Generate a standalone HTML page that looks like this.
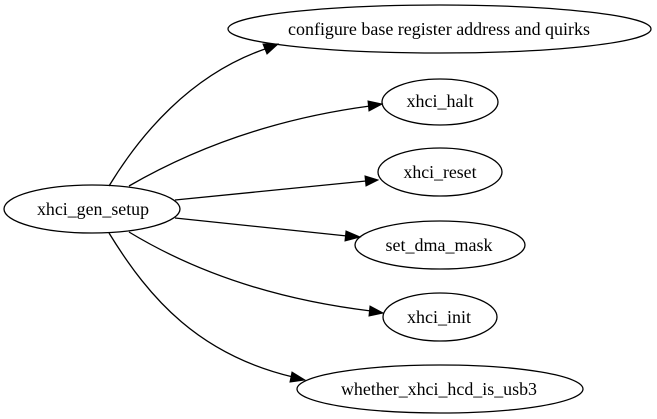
<!DOCTYPE html>
<html><head><meta charset="utf-8"><style>html,body{margin:0;padding:0;background:#fff}svg{display:block}</style></head>
<body>
<svg width="657" height="419" viewBox="0 0 657 419" xmlns="http://www.w3.org/2000/svg">
<g fill="none" stroke="#000" stroke-width="1.3">
<ellipse cx="92" cy="209" rx="88" ry="24"/>
<ellipse cx="439.5" cy="29" rx="211.5" ry="24"/>
<ellipse cx="440" cy="102" rx="58" ry="23"/>
<ellipse cx="440" cy="172" rx="62" ry="24"/>
<ellipse cx="440" cy="245" rx="85" ry="24"/>
<ellipse cx="440" cy="317" rx="57" ry="24"/>
<ellipse cx="440" cy="389" rx="143" ry="24"/>
<path d="M109,186 C140,135 190,75 265,49"/>
<path d="M129,186 C200,145 280,118 370,106"/>
<path d="M175,200 L366,181"/>
<path d="M175,218 L347,236"/>
<path d="M129,232 C200,275 280,300 371,311"/>
<path d="M109,233 C150,300 200,355 293,377"/>
</g>
<g fill="#000" stroke="#000" stroke-width="1">
<polygon points="278,44 263,44 267,54"/>
<polygon points="382,104 368,101 369,111"/>
<polygon points="378,180 365,176 366,186"/>
<polygon points="360,237 346,231 345,241"/>
<polygon points="383,313 370,306 369,316"/>
<polygon points="305,380 292,372 290,382"/>
</g>
<g font-family="Liberation Serif, serif" font-size="18" text-anchor="middle" fill="#000">
<text x="93" y="215" textLength="112" lengthAdjust="spacingAndGlyphs">xhci_gen_setup</text>
<text x="439" y="35" textLength="302" lengthAdjust="spacingAndGlyphs">configure base register address and quirks</text>
<text x="440" y="107" textLength="67" lengthAdjust="spacingAndGlyphs">xhci_halt</text>
<text x="440" y="178" textLength="73" lengthAdjust="spacingAndGlyphs">xhci_reset</text>
<text x="439" y="251" textLength="107" lengthAdjust="spacingAndGlyphs">set_dma_mask</text>
<text x="439" y="323" textLength="64" lengthAdjust="spacingAndGlyphs">xhci_init</text>
<text x="439" y="395" textLength="196" lengthAdjust="spacingAndGlyphs">whether_xhci_hcd_is_usb3</text>
</g>
</svg>
</body></html>
